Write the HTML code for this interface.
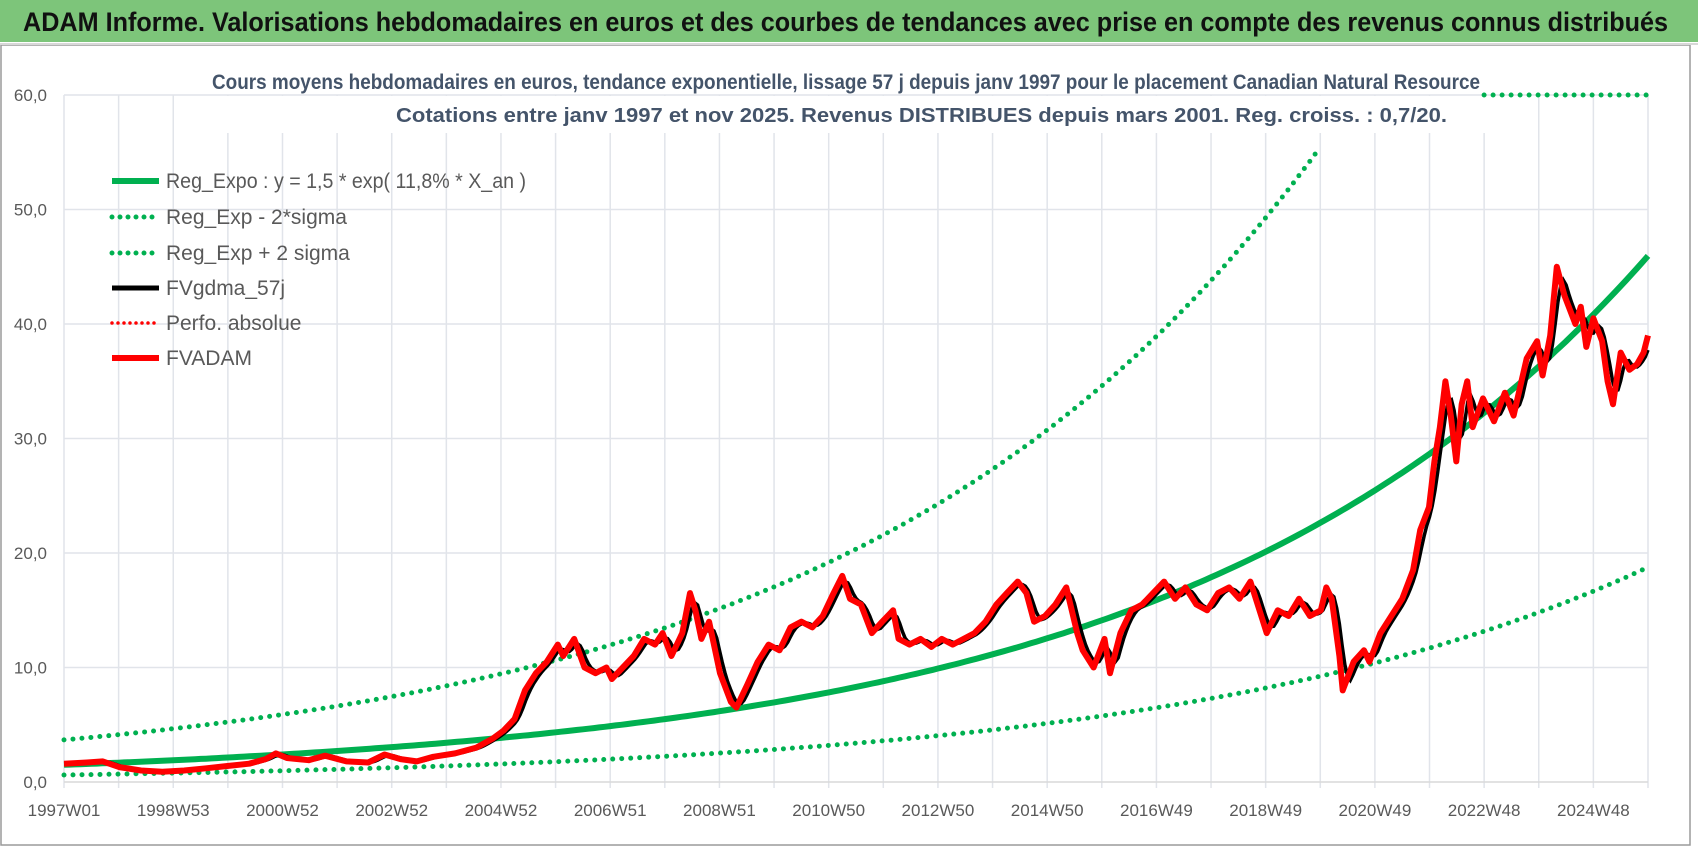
<!DOCTYPE html>
<html><head><meta charset="utf-8"><style>
html,body{margin:0;padding:0;background:#fff;}
svg{display:block;font-family:"Liberation Sans",sans-serif;}
</style></head><body>
<svg id="chart" width="1698" height="848" viewBox="0 0 1698 848">
  <rect x="0" y="0" width="1698" height="848" fill="#fff"/>
  <rect x="0" y="0" width="1698" height="42" fill="#7dc57a"/>
  <text x="23" y="31" font-size="27" font-weight="bold" fill="#111" textLength="1645" lengthAdjust="spacingAndGlyphs">ADAM Informe. Valorisations hebdomadaires en euros et des courbes de tendances avec prise en compte des revenus connus distribués</text>
  <rect x="1" y="45" width="1689" height="800" fill="none" stroke="#9a9a9a" stroke-width="1.5"/>
  <line x1="0" y1="44" x2="1698" y2="44" stroke="#d8d8d8" stroke-width="2"/>
  <g id="grid"></g>
  <rect x="205" y="96" width="1280" height="37" fill="#fff"/>
  <text x="212" y="89" font-size="21" font-weight="bold" fill="#44546a" textLength="1268" lengthAdjust="spacingAndGlyphs">Cours moyens hebdomadaires en euros, tendance exponentielle, lissage 57 j depuis janv 1997  pour le placement Canadian Natural Resource</text>
  <text x="396" y="122" font-size="20" font-weight="bold" fill="#44546a" textLength="1051" lengthAdjust="spacingAndGlyphs">Cotations entre janv 1997 et nov 2025. Revenus DISTRIBUES depuis mars 2001. Reg. croiss. : 0,7/20.</text>
  <g id="axes"></g>
  <g id="series"></g>
  <g id="legend"></g>
</svg>
<script>
// ---- data ----
const yTicks = [0, 10, 20, 30, 40, 50, 60];
const yTickLabels = ["0,0", "10,0", "20,0", "30,0", "40,0", "50,0", "60,0"];
const xTickLabels = ["1997W01","1998W53","2000W52","2002W52","2004W52","2006W51","2008W51","2010W50","2012W50","2014W50","2016W49","2018W49","2020W49","2022W48","2024W48"];
const xTickYears = [0,2,4,6,8,10,12,14,16,18,20,22,24,26,28];
const regA = [1.5];
const regRate = [0.118];
const sigmaFactor = [2.45];
const upperCapValue = [60];
const upperCapStart = [26.0];
const upperVisibleEnd = [23.1];
const years = [0,0.42,0.71,1.01,1.41,1.80,2.20,2.60,2.99,3.39,3.69,3.88,4.08,4.48,4.78,5.17,5.57,5.87,6.16,6.46,6.76,7.16,7.55,7.85,8.05,8.25,8.44,8.64,8.84,9.04,9.14,9.34,9.53,9.73,9.93,10.03,10.23,10.43,10.62,10.82,10.96,11.12,11.32,11.46,11.56,11.67,11.81,12.01,12.21,12.31,12.51,12.70,12.90,13.10,13.30,13.50,13.70,13.89,14.09,14.25,14.39,14.59,14.79,14.98,15.18,15.28,15.48,15.68,15.88,16.07,16.27,16.47,16.67,16.87,17.07,17.26,17.46,17.62,17.76,17.96,18.15,18.35,18.55,18.65,18.85,19.05,19.15,19.34,19.54,19.74,19.94,20.14,20.34,20.53,20.73,20.93,21.13,21.33,21.52,21.72,21.92,22.02,22.22,22.42,22.61,22.81,23.01,23.11,23.21,23.35,23.41,23.61,23.80,23.90,24.10,24.30,24.50,24.70,24.83,24.99,25.09,25.19,25.29,25.39,25.49,25.59,25.69,25.79,25.98,26.18,26.38,26.54,26.78,26.97,27.07,27.21,27.33,27.47,27.67,27.77,27.87,28.00,28.16,28.26,28.36,28.50,28.66,28.80,28.92,29.0];
const prices = [1.6,1.7,1.8,1.3,1.0,0.9,1.0,1.2,1.4,1.6,2.0,2.5,2.1,1.9,2.3,1.8,1.7,2.4,2.0,1.8,2.2,2.5,3.0,3.8,4.5,5.5,8.0,9.5,10.5,12.0,11.0,12.5,10.0,9.5,10.0,9.0,10.0,11.0,12.5,12.0,13.0,11.0,13.0,16.5,15.0,12.5,14.0,9.5,7.0,6.5,8.5,10.5,12.0,11.5,13.5,14.0,13.5,14.5,16.5,18.0,16.0,15.5,13.0,14.0,15.0,12.5,12.0,12.5,11.8,12.5,12.0,12.5,13.0,14.0,15.5,16.5,17.5,16.5,14.0,14.5,15.5,17.0,13.0,11.5,10.0,12.5,9.5,13.0,15.0,15.5,16.5,17.5,16.0,17.0,15.5,15.0,16.5,17.0,16.0,17.5,14.5,13.0,15.0,14.5,16.0,14.5,15.0,17.0,16.0,11.0,8.0,10.5,11.5,10.5,13.0,14.5,16.0,18.5,22.0,24.0,28.0,31.0,35.0,32.0,28.0,33.0,35.0,31.0,33.5,31.5,34.0,32.0,37.0,38.5,35.5,39.0,45.0,42.5,40.0,41.5,38.0,40.5,38.5,35.0,33.0,37.5,36.0,36.5,37.5,39.0];

// ---- axes ----
const X0 = 64, X1 = 1648, T0 = 0, T1 = 29;
const Y0 = 782, PXPERUNIT = 11.45;
const xs = t => X0 + (t - T0) / (T1 - T0) * (X1 - X0);
const ys = v => Y0 - v * PXPERUNIT;
const NS = "http://www.w3.org/2000/svg";
function mk(tag, attrs, parent) {
  const e = document.createElementNS(NS, tag);
  for (const k in attrs) e.setAttribute(k, attrs[k]);
  parent.appendChild(e);
  return e;
}
const grid = document.getElementById('grid');
const axes = document.getElementById('axes');
const series = document.getElementById('series');
const legend = document.getElementById('legend');

for (let y = 0; y <= 29; y++) {
  const l = mk('line', {x1: xs(y), x2: xs(y), y1: ys(60), y2: Y0 + 6, stroke: '#e1e4ea', 'stroke-width': 1.5}, grid);
  
  
}
yTicks.forEach((v, i) => {
  const l = mk('line', {x1: X0, x2: X1, y1: ys(v), y2: ys(v), stroke: v === 0 ? '#d9d9d9' : '#e1e4ea', 'stroke-width': 1.5}, grid);
  
  
  const t = mk('text', {x: 47, y: ys(v) + 6, 'font-size': 17, fill: '#595959', 'text-anchor': 'end'}, axes);
  t.textContent = yTickLabels[i];
  
  
});
xTickYears.forEach((yr, i) => {
  const t = mk('text', {x: xs(yr), y: 816, 'font-size': 17, fill: '#595959', 'text-anchor': 'middle'}, axes);
  t.textContent = xTickLabels[i];
  
  
});

// ---- series ----
function pathFrom(pts) { return pts.map((p, i) => (i ? 'L' : 'M') + xs(p[0]).toFixed(1) + ',' + ys(p[1]).toFixed(1)).join(''); }
const reg = t => regA[0] * Math.exp(regRate[0] * t);
const regPts = [], lowPts = [], upPts = [], capPts = [];
for (let t = 0; t <= 29.0001; t += 0.1) {
  regPts.push([t, reg(t)]);
  lowPts.push([t, reg(t) / sigmaFactor[0]]);
  if (t <= upperVisibleEnd[0]) upPts.push([t, reg(t) * sigmaFactor[0]]);
  if (t >= upperCapStart[0]) capPts.push([t, upperCapValue[0]]);
}
const dotted = {fill: 'none', stroke: '#00b050', 'stroke-width': 5, 'stroke-dasharray': '0 9', 'stroke-linecap': 'round'};
const pLow = mk('path', Object.assign({d: pathFrom(lowPts)}, dotted), series);


const pUp = mk('path', Object.assign({d: pathFrom(upPts)}, dotted), series);


const pCap = mk('path', Object.assign({d: pathFrom(capPts)}, dotted), series);


const pReg = mk('path', {d: pathFrom(regPts), fill: 'none', stroke: '#00b050', 'stroke-width': 6}, series);



const pricePts = years.map((t, i) => [t, prices[i]]);
const pPrice = mk('path', {d: pathFrom(pricePts), fill: 'none', stroke: '#ff0000', 'stroke-width': 6, 'stroke-linejoin': 'round'}, series);



function interp(t) {
  if (t <= years[0]) return prices[0];
  for (let i = 1; i < years.length; i++) if (t <= years[i]) {
    const f = (t - years[i-1]) / (years[i] - years[i-1]);
    return prices[i-1] + f * (prices[i] - prices[i-1]);
  }
  return prices[prices.length - 1];
}
const smPts = [];
for (let t = 0; t <= 29.0001; t += 0.05) {
  let s = 0, n = 0;
  for (let d = -0.16; d <= 0.0001; d += 0.02) { s += interp(Math.max(0, t + d)); n++; }
  smPts.push([t, s / n]);
}
const pSm = mk('path', {d: pathFrom(smPts), fill: 'none', stroke: '#000', 'stroke-width': 3.5}, series);


series.appendChild(pPrice);

// ---- legend ----
const legendItems = [
  {label: "Reg_Expo : y = 1,5 * exp( 11,8% *  X_an )", color: '#00b050', dash: null, w: 6, len: 360},
  {label: "Reg_Exp - 2*sigma", color: '#00b050', dash: '0 8', w: 5, len: 0},
  {label: "Reg_Exp + 2 sigma", color: '#00b050', dash: '0 8', w: 5, len: 0},
  {label: "FVgdma_57j", color: '#000', dash: null, w: 5, len: 0},
  {label: "Perfo. absolue", color: '#ff0000', dash: '0 6', w: 3.5, len: 0},
  {label: "FVADAM", color: '#ff0000', dash: null, w: 6, len: 0}
];
const legendRowY = [181, 217, 253, 288, 323, 358];
legendItems.forEach((it, i) => {
  const y = legendRowY[i];
  const attrs = {x1: 112, x2: 159, y1: y, y2: y, stroke: it.color, 'stroke-width': it.w, 'stroke-linecap': it.dash ? 'round' : 'butt'};
  if (it.dash) attrs['stroke-dasharray'] = it.dash;
  const l = mk('line', attrs, legend);
  
  
  const ta = {x: 166, y: y + 7, 'font-size': 21, fill: '#595959'};
  if (it.len) { ta.textLength = it.len; ta.lengthAdjust = 'spacingAndGlyphs'; }
  const t = mk('text', ta, legend);
  t.textContent = it.label;
  
  
});
</script>
</body></html>
